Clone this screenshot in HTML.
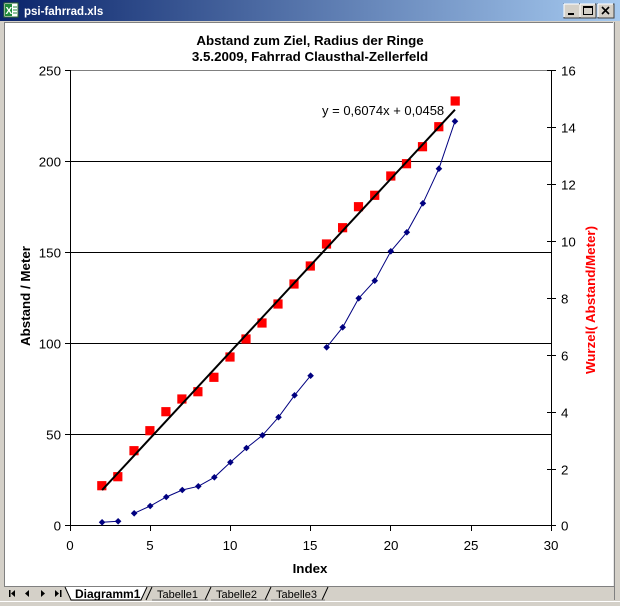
<!DOCTYPE html>
<html><head><meta charset="utf-8"><style>
html,body{margin:0;padding:0;background:#d4d0c8;}
svg{display:block;}
text{font-family:"Liberation Sans",Arial,sans-serif;}
</style></head><body>
<svg width="620" height="606" viewBox="0 0 620 606" xmlns="http://www.w3.org/2000/svg">
<defs>
<linearGradient id="tb" x1="0" x2="1" y1="0" y2="0">
<stop offset="0" stop-color="#0a246a"/><stop offset="1" stop-color="#a6caf0"/>
</linearGradient>
<path id="dm" d="M0,-3.3 L3.3,0 L0,3.3 L-3.3,0Z" fill="#000080"/>
<rect id="sq" x="-4.6" y="-4.6" width="9.2" height="9.2" fill="#ff0000"/>
</defs>
<!-- window frame -->
<rect x="0" y="0" width="620" height="606" fill="#d4d0c8"/>
<rect x="0" y="0" width="620" height="21" fill="url(#tb)"/>
<!-- excel icon -->
<rect x="4" y="3" width="14" height="14" fill="#ffffff" stroke="#2f6b2f" stroke-width="1"/>
<rect x="5" y="4" width="7" height="12" fill="#1f8a3a"/>
<text x="5.5" y="14" font-size="10" font-weight="bold" fill="#fff">X</text>
<line x1="13" y1="7" x2="17" y2="7" stroke="#1f8a3a"/><line x1="13" y1="10" x2="17" y2="10" stroke="#1f8a3a"/><line x1="13" y1="13" x2="17" y2="13" stroke="#1f8a3a"/>
<text x="24" y="15" font-size="11.5" font-weight="bold" fill="#ffffff">psi-fahrrad.xls</text>
<!-- buttons -->
<g>
<rect x="564" y="4" width="16" height="14" fill="#d4d0c8" stroke="#404040"/>
<line x1="564" y1="4" x2="579" y2="4" stroke="#fff"/><line x1="564" y1="4" x2="564" y2="17" stroke="#fff"/>
<rect x="568" y="13" width="6" height="2" fill="#000"/>
<rect x="580" y="4" width="16" height="14" fill="#d4d0c8" stroke="#404040"/>
<line x1="580" y1="4" x2="595" y2="4" stroke="#fff"/><line x1="580" y1="4" x2="580" y2="17" stroke="#fff"/>
<rect x="583.5" y="6.5" width="9" height="8" fill="none" stroke="#000"/><line x1="583.5" y1="7.5" x2="592.5" y2="7.5" stroke="#000"/>
<rect x="598" y="4" width="16" height="14" fill="#d4d0c8" stroke="#404040"/>
<line x1="598" y1="4" x2="613" y2="4" stroke="#fff"/><line x1="598" y1="4" x2="598" y2="17" stroke="#fff"/>
<path d="M602,7 L609,14 M609,7 L602,14" stroke="#000" stroke-width="1.6"/>
</g>
<!-- content area -->
<rect x="5" y="23" width="608" height="563" fill="#ffffff"/>
<line x1="4.5" y1="22" x2="4.5" y2="587" stroke="#808080"/>
<line x1="4" y1="22.5" x2="614" y2="22.5" stroke="#808080"/>
<line x1="613.5" y1="22" x2="613.5" y2="587" stroke="#e8e8e8"/>
<line x1="614.5" y1="22" x2="614.5" y2="600" stroke="#808080"/>
<!-- tab bar -->
<line x1="5" y1="586.5" x2="614" y2="586.5" stroke="#808080"/>
<line x1="0" y1="601.5" x2="620" y2="601.5" stroke="#ffffff"/>
<g fill="#000">
<rect x="9" y="590" width="1.5" height="7"/><path d="M11,593.5 L15,590 L15,597Z"/>
<path d="M25,593.5 L29,590 L29,597Z"/>
<path d="M45,593.5 L41,590 L41,597Z"/>
<path d="M59,593.5 L55,590 L55,597Z"/><rect x="60" y="590" width="1.5" height="7"/>
</g>
<path d="M65,587 L71,600 L141,600 L147,587" fill="#ffffff" stroke="#000" stroke-width="1"/>
<text x="75" y="598" font-size="12" font-weight="bold" fill="#000">Diagramm1</text>
<path d="M146,600 L152,587 M205,600 L211,587 M265,600 L271,587 M322,600 L328,587" stroke="#000" stroke-width="1" fill="none"/>
<path d="M152,600 L208,600 M211,600 L268,600 M271,600 L325,600" stroke="#808080" stroke-width="1"/>
<text x="157" y="598" font-size="11" fill="#000">Tabelle1</text>
<text x="216" y="598" font-size="11" fill="#000">Tabelle2</text>
<text x="276" y="598" font-size="11" fill="#000">Tabelle3</text>

<!-- chart title -->
<text x="310" y="45" font-size="13.33" font-weight="bold" text-anchor="middle" fill="#000">Abstand zum Ziel, Radius der Ringe</text>
<text x="310" y="61" font-size="13.33" font-weight="bold" text-anchor="middle" fill="#000">3.5.2009, Fahrrad Clausthal-Zellerfeld</text>

<!-- plot area -->
<line x1="70" y1="70.5" x2="551" y2="70.5" stroke="#808080"/>
<g stroke="#000" stroke-width="1">
<line x1="70" y1="161.5" x2="551" y2="161.5"/>
<line x1="70" y1="252.5" x2="551" y2="252.5"/>
<line x1="70" y1="343.5" x2="551" y2="343.5"/>
<line x1="70" y1="434.5" x2="551" y2="434.5"/>
<line x1="70" y1="525.5" x2="551" y2="525.5"/>
<line x1="70.5" y1="70" x2="70.5" y2="526"/>
<line x1="551.5" y1="70" x2="551.5" y2="526"/>
<!-- left ticks -->
<line x1="65" y1="70.5" x2="70" y2="70.5"/>
<line x1="65" y1="161.5" x2="70" y2="161.5"/>
<line x1="65" y1="252.5" x2="70" y2="252.5"/>
<line x1="65" y1="343.5" x2="70" y2="343.5"/>
<line x1="65" y1="434.5" x2="70" y2="434.5"/>
<line x1="65" y1="525.5" x2="70" y2="525.5"/>
<!-- right ticks -->
<line x1="547" y1="70.5" x2="556" y2="70.5"/>
<line x1="547" y1="127.5" x2="556" y2="127.5"/>
<line x1="547" y1="184.5" x2="556" y2="184.5"/>
<line x1="547" y1="241.5" x2="556" y2="241.5"/>
<line x1="547" y1="298.5" x2="556" y2="298.5"/>
<line x1="547" y1="355.5" x2="556" y2="355.5"/>
<line x1="547" y1="412.5" x2="556" y2="412.5"/>
<line x1="547" y1="469.5" x2="556" y2="469.5"/>
<line x1="547" y1="525.5" x2="556" y2="525.5"/>
<!-- bottom ticks -->
<line x1="70.5" y1="526" x2="70.5" y2="531"/>
<line x1="150.5" y1="526" x2="150.5" y2="531"/>
<line x1="230.5" y1="526" x2="230.5" y2="531"/>
<line x1="310.5" y1="526" x2="310.5" y2="531"/>
<line x1="390.5" y1="526" x2="390.5" y2="531"/>
<line x1="471.5" y1="526" x2="471.5" y2="531"/>
<line x1="551.5" y1="526" x2="551.5" y2="531"/>
</g>
<!-- left labels -->
<g font-size="13.33" text-anchor="end" fill="#000">
<text x="61" y="75.3">250</text>
<text x="61" y="166.3">200</text>
<text x="61" y="257.3">150</text>
<text x="61" y="348.3">100</text>
<text x="61" y="439.3">50</text>
<text x="61" y="530.3">0</text>
</g>
<!-- right labels -->
<g font-size="13.33" fill="#000">
<text x="561" y="75.3">16</text>
<text x="561" y="132.3">14</text>
<text x="561" y="189.3">12</text>
<text x="561" y="246.3">10</text>
<text x="561" y="303.3">8</text>
<text x="561" y="360.3">6</text>
<text x="561" y="417.3">4</text>
<text x="561" y="474.3">2</text>
<text x="561" y="530.3">0</text>
</g>
<!-- bottom labels -->
<g font-size="13.33" text-anchor="middle" fill="#000">
<text x="70" y="550">0</text>
<text x="150" y="550">5</text>
<text x="230" y="550">10</text>
<text x="310" y="550">15</text>
<text x="391" y="550">20</text>
<text x="471" y="550">25</text>
<text x="551" y="550">30</text>
</g>
<text x="310" y="573" font-size="13.33" font-weight="bold" text-anchor="middle" fill="#000">Index</text>
<text transform="translate(30,296) rotate(-90)" font-size="13.33" font-weight="bold" text-anchor="middle" fill="#000">Abstand / Meter</text>
<text transform="translate(595,300) rotate(-90)" font-size="13.33" font-weight="bold" text-anchor="middle" fill="#ff0000">Wurzel( Abstand/Meter)</text>

<!-- blue series -->
<g fill="none" stroke="#000080" stroke-width="1">
<polyline points="102.08,522.3 118.12,521.3"/>
<polyline points="134.16,513.3 150.2,506 166.24,497 182.28,490 198.32,486.3 214.36,477.3 230.4,462.3 246.44,448 262.48,435.3 278.52,417.2 294.56,395.3 310.6,375.7"/>
<polyline points="326.64,347.3 342.68,327.3 358.72,298.3 374.76,280.7 390.8,251.3 406.84,232.3 422.88,203.3 438.92,168.7 454.96,121.3"/>
</g>
<g>
<use href="#dm" x="102.08" y="522.3"/><use href="#dm" x="118.12" y="521.3"/>
<use href="#dm" x="134.16" y="513.3"/><use href="#dm" x="150.2" y="506"/>
<use href="#dm" x="166.24" y="497"/><use href="#dm" x="182.28" y="490"/>
<use href="#dm" x="198.32" y="486.3"/><use href="#dm" x="214.36" y="477.3"/>
<use href="#dm" x="230.4" y="462.3"/><use href="#dm" x="246.44" y="448"/>
<use href="#dm" x="262.48" y="435.3"/><use href="#dm" x="278.52" y="417.2"/>
<use href="#dm" x="294.56" y="395.3"/><use href="#dm" x="310.6" y="375.7"/>
<use href="#dm" x="326.64" y="347.3"/><use href="#dm" x="342.68" y="327.3"/>
<use href="#dm" x="358.72" y="298.3"/><use href="#dm" x="374.76" y="280.7"/>
<use href="#dm" x="390.8" y="251.3"/><use href="#dm" x="406.84" y="232.3"/>
<use href="#dm" x="422.88" y="203.3"/><use href="#dm" x="438.92" y="168.7"/>
<use href="#dm" x="454.96" y="121.3"/>
</g>

<!-- red series -->
<g>
<use href="#sq" x="101.8" y="485.7"/><use href="#sq" x="117.8" y="476.7"/>
<use href="#sq" x="134" y="450.7"/><use href="#sq" x="149.9" y="430.7"/>
<use href="#sq" x="165.9" y="411.7"/><use href="#sq" x="181.9" y="399"/>
<use href="#sq" x="197.9" y="391.7"/><use href="#sq" x="213.9" y="377.3"/>
<use href="#sq" x="230" y="357"/><use href="#sq" x="246" y="339"/>
<use href="#sq" x="262" y="323"/><use href="#sq" x="278" y="304"/>
<use href="#sq" x="294" y="284"/><use href="#sq" x="310.3" y="266"/>
<use href="#sq" x="326.5" y="244"/><use href="#sq" x="342.6" y="227.7"/>
<use href="#sq" x="358.5" y="206.7"/><use href="#sq" x="374.7" y="195.3"/>
<use href="#sq" x="390.8" y="176"/><use href="#sq" x="406.5" y="163.7"/>
<use href="#sq" x="422.5" y="146.7"/><use href="#sq" x="438.8" y="126.7"/>
<use href="#sq" x="455.2" y="101"/>
</g>
<!-- trendline -->
<line x1="102.08" y1="490.1" x2="454.96" y2="109.7" stroke="#000" stroke-width="2"/>
<text x="322" y="115" font-size="13" fill="#000">y = 0,6074x + 0,0458</text>
</svg>
</body></html>
